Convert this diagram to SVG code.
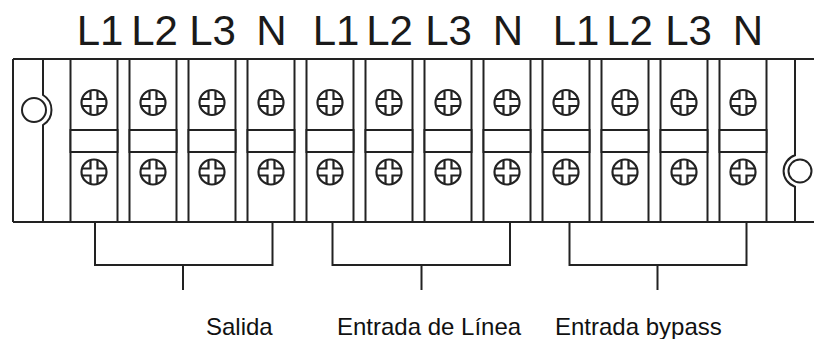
<svg xmlns="http://www.w3.org/2000/svg" width="814" height="339" viewBox="0 0 814 339">
<style>
.ln{fill:none;stroke:#222;stroke-width:2}
.blk{fill:#fff;stroke:#222;stroke-width:2}
.sc{fill:none;stroke:#222;stroke-width:2.2}
.hd{font-family:"Liberation Sans",Arial,sans-serif;font-size:42px;fill:#1a1a1a;text-anchor:middle}
.lb{font-family:"Liberation Sans",Arial,sans-serif;font-size:24px;fill:#111}
</style>
<defs>
<g id="screw" class="sc">
<circle r="12.5"/>
<path d="M-3.5,-12 V-3.5 H-12 M3.5,-12 V-3.5 H12 M-3.5,12 V3.5 H-12 M3.5,12 V3.5 H12"/>
</g>
</defs>
<rect width="814" height="339" fill="#fff"/>
<g id="frame">
<path class="ln" d="M13,59 H814 M13,222 H814 M13,59 V222"/>
<path class="ln" d="M43,59 V95 A17.5,17.5 0 0 1 43,125 V222"/>
<circle class="ln" cx="34" cy="110" r="12"/>
<path class="ln" d="M795,59 V155.3 A16.5,16.5 0 0 0 795,186.7 V222"/>
<circle class="ln" cx="800" cy="171" r="11.5"/>
</g>
<g id="out-L1"><rect class="blk" x="70.5" y="59" width="47" height="163"/><rect class="blk" x="70.5" y="130" width="47" height="22"/><use href="#screw" x="94" y="102.5"/><use href="#screw" x="94" y="172"/></g>
<g id="out-L2"><rect class="blk" x="129.5" y="59" width="47" height="163"/><rect class="blk" x="129.5" y="130" width="47" height="22"/><use href="#screw" x="153" y="102.5"/><use href="#screw" x="153" y="172"/></g>
<g id="out-L3"><rect class="blk" x="188.5" y="59" width="47" height="163"/><rect class="blk" x="188.5" y="130" width="47" height="22"/><use href="#screw" x="212" y="102.5"/><use href="#screw" x="212" y="172"/></g>
<g id="out-N"><rect class="blk" x="247.5" y="59" width="47" height="163"/><rect class="blk" x="247.5" y="130" width="47" height="22"/><use href="#screw" x="271" y="102.5"/><use href="#screw" x="271" y="172"/></g>
<g id="in-L1"><rect class="blk" x="306.5" y="59" width="47" height="163"/><rect class="blk" x="306.5" y="130" width="47" height="22"/><use href="#screw" x="330" y="102.5"/><use href="#screw" x="330" y="172"/></g>
<g id="in-L2"><rect class="blk" x="365.5" y="59" width="47" height="163"/><rect class="blk" x="365.5" y="130" width="47" height="22"/><use href="#screw" x="389" y="102.5"/><use href="#screw" x="389" y="172"/></g>
<g id="in-L3"><rect class="blk" x="424.5" y="59" width="47" height="163"/><rect class="blk" x="424.5" y="130" width="47" height="22"/><use href="#screw" x="448" y="102.5"/><use href="#screw" x="448" y="172"/></g>
<g id="in-N"><rect class="blk" x="483.5" y="59" width="47" height="163"/><rect class="blk" x="483.5" y="130" width="47" height="22"/><use href="#screw" x="507" y="102.5"/><use href="#screw" x="507" y="172"/></g>
<g id="byp-L1"><rect class="blk" x="542.5" y="59" width="47" height="163"/><rect class="blk" x="542.5" y="130" width="47" height="22"/><use href="#screw" x="566" y="102.5"/><use href="#screw" x="566" y="172"/></g>
<g id="byp-L2"><rect class="blk" x="601.5" y="59" width="47" height="163"/><rect class="blk" x="601.5" y="130" width="47" height="22"/><use href="#screw" x="625" y="102.5"/><use href="#screw" x="625" y="172"/></g>
<g id="byp-L3"><rect class="blk" x="660.5" y="59" width="47" height="163"/><rect class="blk" x="660.5" y="130" width="47" height="22"/><use href="#screw" x="684" y="102.5"/><use href="#screw" x="684" y="172"/></g>
<g id="byp-N"><rect class="blk" x="719.5" y="59" width="47" height="163"/><rect class="blk" x="719.5" y="130" width="47" height="22"/><use href="#screw" x="743" y="102.5"/><use href="#screw" x="743" y="172"/></g>
<g id="connectors" class="ln">
<path d="M95,222 V265 H272.5 V222 M183,265 V290"/>
<path d="M332.5,222 V265 H510 V222 M421.5,265 V290"/>
<path d="M569.5,222 V265 H746.5 V222 M657.5,265 V290"/>
</g>
<g id="terminal-labels" class="hd">
<text x="100" y="45">L1</text><text x="154.5" y="45">L2</text><text x="212.5" y="45">L3</text><text x="271.5" y="45">N</text>
<text x="336" y="45">L1</text><text x="389.5" y="45">L2</text><text x="448.5" y="45">L3</text><text x="508" y="45">N</text>
<text x="576" y="45">L1</text><text x="629.5" y="45">L2</text><text x="688.5" y="45">L3</text><text x="748" y="45">N</text>
</g>
<g id="group-labels" class="lb">
<text x="206" y="335">Salida</text>
<text x="337" y="335">Entrada de Línea</text>
<text x="555" y="335">Entrada bypass</text>
</g>
</svg>
